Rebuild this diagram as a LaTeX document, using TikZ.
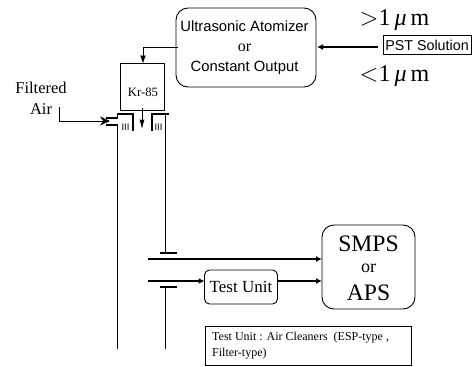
\documentclass[tikz,border=0pt]{standalone}
\usepackage{fontspec}
\setmainfont{Liberation Serif}
\newfontfamily\arialf{Liberation Sans}
\usetikzlibrary{arrows.meta}
\tikzset{
  x=1pt,y=-1pt,
  pipe/.style={line width=1.4pt},
  flow/.style={line width=1.4pt,-{Latex[length=6pt,width=6pt]}},
  roundbox/.style={draw,line width=0.9pt,rounded corners=#1,inner sep=0pt},
  txt/.style={inner sep=0pt,align=center},
  vent/.style={inner sep=0pt,font=\arialf\fontsize{9.5}{9.5}\selectfont}
}
\begin{document}
\begin{tikzpicture}
\useasboundingbox (0,0) rectangle (475,367);
% atomizer
\node[roundbox=12pt,minimum width=140pt,minimum height=79pt] (atom) at (246,47.5) {};
\node[txt,font=\arialf\fontsize{14.8}{20.5}\selectfont] (atomt) at (244.5,47.5) {Ultrasonic Atomizer\\[-0.5pt]{\rmfamily\fontsize{16}{20.5}\selectfont or}\\Constant Output};
\node[roundbox=0pt,minimum width=43.5pt,minimum height=46.5pt] (kr) at (142.5,87) {};
\node[txt,font=\fontsize{12.7}{12.7}\selectfont] (krt) at (143,92.5) {Kr-85};
\coordinate (atomw) at (178,47);
\coordinate (krn) at (143,63.5);
\draw[line width=0.9pt,-{Latex[length=8pt,width=6pt]}] (atomw) -| (krn);
% pst
\node[draw,line width=0.7pt,inner sep=1pt,font=\arialf\fontsize{14.3}{14}\selectfont,minimum height=19pt,minimum width=88pt] (pst) at (427,45) {PST Solution};
\draw[flow] (378,47) -- (317,47);
\node[txt,font=\fontsize{24}{24}\selectfont] (gt) at (394.5,20.5) {$>$1\,{\itshape μ}\,m};
\node[txt,font=\fontsize{24}{24}\selectfont] (lt) at (394.5,76.5) {$<$1\,{\itshape μ}\,m};
% filtered air
\node[txt,font=\fontsize{16.5}{21}\selectfont] (fa) at (41,98.5) {Filtered\\Air};
\coordinate (fa1) at (59.8,107);
\coordinate (fa2) at (59.8,121);
\coordinate (fa3) at (110,121);
\draw[line width=1pt,-{Stealth[length=10pt,width=9pt]}] (fa1) -- (fa2) -- (fa3);
% column walls
\coordinate (a1) at (106,118); \coordinate (a2) at (117.5,118); \coordinate (a3) at (117.5,114);
\coordinate (a4) at (133,114); \coordinate (a5) at (133,130.5);
\draw[pipe] (a1) -- (a2) -- (a3) -- (a4) -- (a5);
\coordinate (b1) at (106,125); \coordinate (b2) at (117.5,125); \coordinate (b3) at (117.5,349);
\draw[pipe] (b1) -- (b2) -- (b3);
\coordinate (c1) at (152,130.5); \coordinate (c2) at (152,114); \coordinate (c3) at (169,114);
\draw[pipe] (c1) -- (c2) -- (c3);
\coordinate (d1) at (165.5,114); \coordinate (d2) at (165.5,253);
\draw[pipe] (d1) -- (d2);
\coordinate (e1) at (159.5,253); \coordinate (e2) at (177,253);
\draw[pipe] (e1) -- (e2);
\coordinate (f1) at (159.5,287); \coordinate (f2) at (177,287);
\draw[pipe] (f1) -- (f2);
\coordinate (g1) at (165.5,287); \coordinate (g2) at (165.5,349);
\draw[pipe] (g1) -- (g2);
% Kr outlet arrow
\coordinate (kro) at (142,108);
\coordinate (krd) at (142,129.5);
\draw[line width=1pt,-{Latex[length=10pt,width=5pt]}] (kro) -- (krd);
% vent marks
\node[vent] (v1) at (125.5,127) {III};
\node[vent] (v2) at (158.5,127) {III};
% boxes right
\node[roundbox=12pt,minimum width=93pt,minimum height=84pt] (smps) at (368.5,267) {};
\node[txt,font=\fontsize{23.6}{23.6}\selectfont] (s1) at (368.5,244) {SMPS};
\node[txt,font=\fontsize{18}{18}\selectfont] (s2) at (368.5,268) {or};
\node[txt,font=\fontsize{23.6}{23.6}\selectfont] (s3) at (368.5,293) {APS};
\node[roundbox=5pt,minimum width=73pt,minimum height=34pt,font=\fontsize{17}{17}\selectfont] (tu) at (241,287) {Test Unit};
\coordinate (l1) at (148,259);
\coordinate (l1e) at (322,259);
\draw[flow,line width=1.6pt] (l1) -- (l1e);
\coordinate (l2) at (148,281);
\coordinate (l2e) at (204.5,281);
\draw[flow] (l2) -- (l2e);
\coordinate (l3) at (277.5,281);
\coordinate (l3e) at (322,281);
\draw[flow] (l3) -- (l3e);
% note
\node[draw,line width=0.7pt,anchor=north west,minimum width=206pt,minimum height=39pt,inner sep=0pt] (note) at (204.5,326) {};
\node[anchor=north west,inner sep=0pt,align=left,font=\fontsize{12}{15.5}\selectfont] (notet) at (212,332) {Test Unit : Air Cleaners\ \ (ESP-type ,\\Filter-type)};
\end{tikzpicture}
\end{document}
